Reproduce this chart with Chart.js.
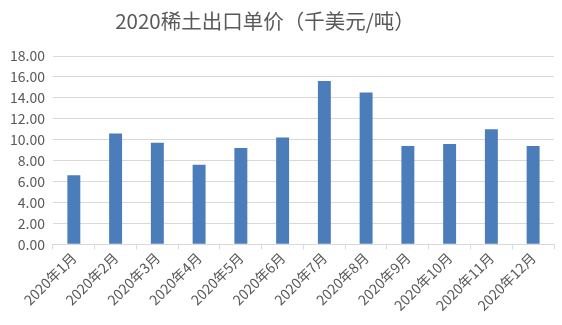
<!DOCTYPE html>
<html>
<head>
<meta charset="utf-8">
<script src="https://cdn.jsdelivr.net/npm/chart.js@4/dist/chart.umd.min.js"></script>
<style>
  html, body { margin: 0; padding: 0; background: #ffffff; }
  #wrap { width: 562px; height: 325px; }
</style>
</head>
<body>
<div id="wrap"><canvas id="c" width="562" height="325"></canvas></div>
<script>
const chartTitle = '2020稀土出口单价（千美元/吨）';
const months = ['2020年1月', '2020年2月', '2020年3月', '2020年4月', '2020年5月', '2020年6月',
                '2020年7月', '2020年8月', '2020年9月', '2020年10月', '2020年11月', '2020年12月'];
const unitPrice = [6.6, 10.6, 9.7, 7.6, 9.2, 10.2, 15.6, 14.5, 9.4, 9.6, 11.0, 9.4];
const yTicks = [0, 2, 4, 6, 8, 10, 12, 14, 16, 18];

const FONT = '"Noto Sans CJK SC", "Noto Sans", sans-serif';
const TEXT = '#595959';

// Title drawn slightly left of centre, above the plot
const titlePlugin = {
  id: 'titleText',
  afterDraw(chart) {
    const ctx = chart.ctx;
    ctx.save();
    ctx.font = '20.5px ' + FONT;
    ctx.fillStyle = TEXT;
    ctx.textAlign = 'center';
    ctx.textBaseline = 'middle';
    ctx.fillText(chartTitle, chart.width * 0.4715, 21);
    ctx.restore();
  }
};

new Chart(document.getElementById('c'), {
  type: 'bar',
  data: {
    labels: months,
    datasets: [{
      data: unitPrice,
      backgroundColor: '#4a7dba',
      barPercentage: 0.31,
      categoryPercentage: 1.0
    }]
  },
  options: {
    responsive: false,
    animation: false,
    layout: { padding: { top: 56, right: 8, left: 2, bottom: 11 } },
    plugins: { legend: { display: false }, tooltip: { enabled: false } },
    scales: {
      x: {
        grid: { display: true, drawOnChartArea: false, offset: true, tickLength: 5, color: '#d9d9d9' },
        border: { display: true, color: '#d9d9d9' },
        ticks: { color: TEXT, font: { family: FONT, size: 14 }, minRotation: 45, maxRotation: 45, padding: 0 }
      },
      y: {
        min: 0,
        max: 18,
        afterBuildTicks(axis) { axis.ticks = yTicks.map(v => ({ value: v })); },
        grid: { color: '#d9d9d9', drawTicks: false },
        border: { display: false },
        ticks: { color: TEXT, font: { family: FONT, size: 14 }, padding: 8, callback: v => v.toFixed(2) }
      }
    }
  },
  plugins: [titlePlugin]
});
</script>
</body>
</html>
